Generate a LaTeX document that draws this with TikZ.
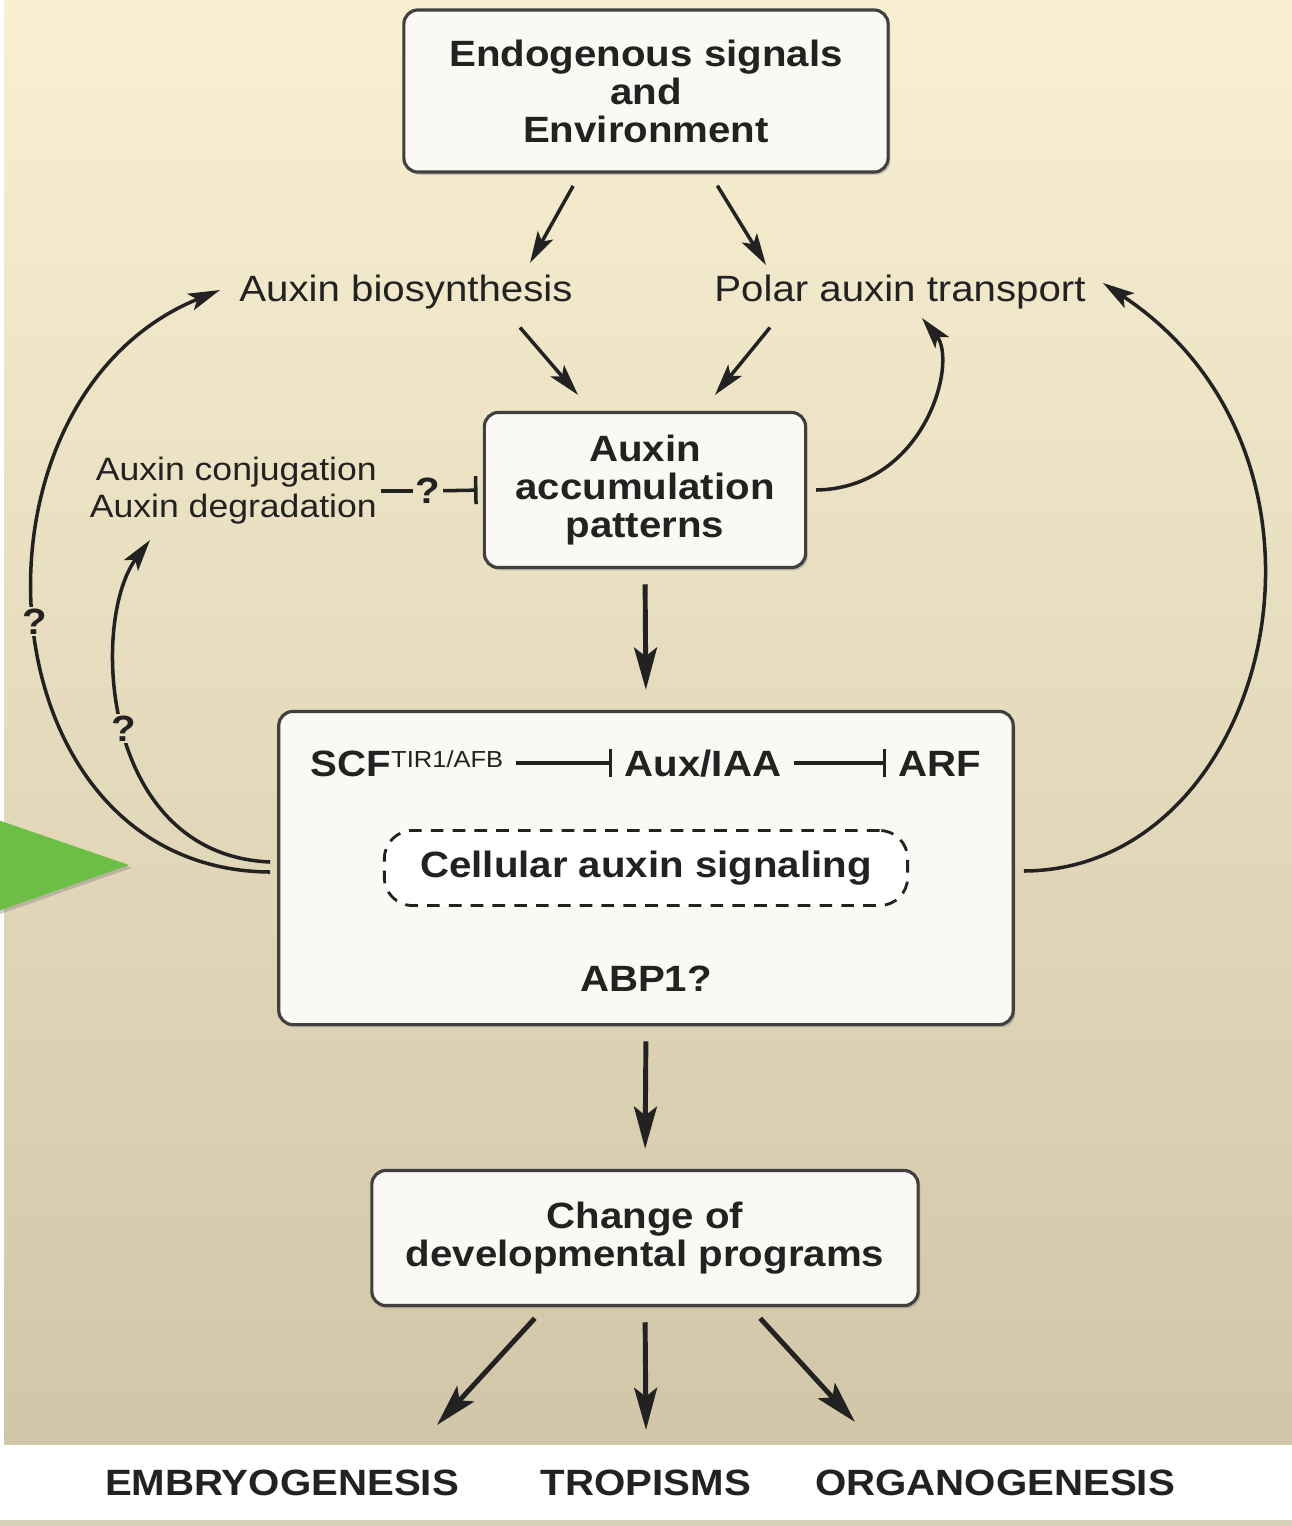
\documentclass[tikz,border=0pt]{standalone}
\usepackage{fontspec}
\setmainfont{Liberation Sans}[FakeStretch=1.1]
\usetikzlibrary{arrows.meta,calc,shadows}
\definecolor{bgTop}{HTML}{F9EFD1}
\definecolor{bgBot}{HTML}{D1C6A8}
\definecolor{boxFill}{HTML}{FBF9F3}
\definecolor{ink}{HTML}{222222}
\definecolor{markGreen}{HTML}{6CBE45}
\newcommand{\boxFont}{\fontsize{10.4}{10.8}\selectfont\bfseries}
\newcommand{\lblFont}{\fontsize{10.4}{10.8}\selectfont}
\newcommand{\smallFont}{\fontsize{9.2}{10.5}\selectfont}
\newcommand{\supText}[1]{\raisebox{2.6pt}{\fontsize{6.6}{7}\selectfont\mdseries #1}}

\begin{document}
\begin{tikzpicture}[x=0.01cm, y=-0.01cm,
    box/.style={draw=black!75, line width=0.9pt, fill=boxFill, rounded corners=4pt,
      align=center, font=\boxFont, text=ink,
      drop shadow={shadow xshift=0.6pt, shadow yshift=-0.8pt, opacity=0.4}},
    dashbox/.style={draw=ink, line width=0.8pt, dash pattern=on 3.6pt off 2.6pt,
      rounded corners=8pt, fill=white, font=\boxFont, text=ink},
    lbl/.style={font=\lblFont, text=ink},
    txt/.style={font=\boxFont, text=ink, text height=7.6pt, text depth=0pt},
    qmark/.style={font=\boxFont, text=ink, inner sep=0.6pt},
    arr/.style={draw=ink, line width=1pt, -{Stealth[length=9pt, width=5pt, inset=2pt]}},
    bigarr/.style={draw=ink, line width=1.4pt, -{Stealth[length=12pt, width=6.5pt, inset=2.5pt]}},
    inhibit/.style={draw=ink, line width=1pt, -{Bar[width=8pt, line width=1pt]}},
    plain/.style={draw=ink, line width=1pt}]
  \useasboundingbox (0,0) rectangle (1292,1526);

  % background
  \shade[top color=bgTop, bottom color=bgBot] (0,0) rectangle (1292,1445);
  \fill[white] (0,0) rectangle (4,1445);
  \fill[white] (0,1445) rectangle (1292,1520);
  \fill[bgBot!80!white] (0,1520) rectangle (1292,1526);
  \fill[markGreen, drop shadow={shadow xshift=0.8pt, shadow yshift=-0.8pt, opacity=0.4}]
    (-5,819) -- (129,865) -- (-5,912) -- cycle;

  % boxes
  \node[box, minimum width=4.84cm, minimum height=1.62cm] (env) at (646,91)
    {Endogenous signals\\and\\Environment};
  \node[lbl] (bio) at (406,292) {Auxin biosynthesis};
  \node[lbl] (pat) at (900,292) {Polar auxin transport};
  \node[box, minimum width=3.21cm, minimum height=1.55cm] (acc) at (645,490)
    {Auxin\\accumulation\\patterns};
  \node[lbl, font=\smallFont, align=right, anchor=east, inner sep=1pt] (conj) at (381,491)
    {Auxin conjugation\\Auxin degradation};
  \node[qmark] (q1) at (428,491) {?};

  \node[box, minimum width=7.34cm, minimum height=3.13cm] (sig) at (646,868) {};
  \node[txt] (scf) at (407,763) {SCF\supText{TIR1/AFB}};
  \node[txt] (aux) at (703,763) {Aux/IAA};
  \node[txt] (arf) at (940,763) {ARF};
  \node[dashbox, minimum width=5.23cm, minimum height=0.75cm] (cas) at (646,868)
    {Cellular auxin signaling};
  \node[txt] (abp) at (646,978) {ABP1?};

  \node[box, minimum width=5.46cm, minimum height=1.35cm] (chg) at (645,1238)
    {Change of\\developmental programs};

  \node[txt] (emb) at (282,1482) {EMBRYOGENESIS};
  \node[txt] (trop) at (646,1482) {TROPISMS};
  \node[txt] (org) at (995,1482) {ORGANOGENESIS};

  % free ends of the connectors
  \coordinate (bioIn) at (530,263);
  \coordinate (patIn) at (766,265);
  \coordinate (patLoop) at (922,318);
  \coordinate (patOut) at (1103,283);
  \coordinate (bioOut) at (220,290);
  \coordinate (conjOut) at (150,540);
  \coordinate (embIn) at (437,1425);
  \coordinate (tropIn) at (646,1430);
  \coordinate (orgIn) at (855,1422);

  % connectors
  \draw[arr, shorten <=4pt] ($(env.south)+(-66,0)$) -- (bioIn);
  \draw[arr, shorten <=4pt] ($(env.south)+(64,0)$) -- (patIn);
  \draw[arr] ($(bio.south)+(114,6)$) -- ($(acc.north)+(-67,-16)$);
  \draw[arr] ($(pat.south)+(-130,6)$) -- ($(acc.north)+(70,-16)$);
  \draw[plain] (conj.east) -- (q1);
  \draw[inhibit, shorten >=1.5pt] (q1) -- (acc.west);
  \draw[arr] ($(acc.east)+(9,0)$) .. controls (925,488) and (958,362) .. (patLoop);
  \draw[arr] ($(sig.east)+(9,3)$) .. controls (1270,870) and (1370,460) .. (patOut);
  \draw[arr] ($(sig.west)+(-7,4)$) .. controls (-20,870) and (-50,400) .. (bioOut)
    node[qmark, pos=0.5, fill=bgTop!57!bgBot] {?};
  \draw[arr] ($(sig.west)+(-7,-6)$) .. controls (100,855) and (90,620) .. (conjOut)
    node[qmark, pos=0.5, fill=bgTop!50!bgBot] {?};
  \draw[bigarr, shorten <=4.3pt, shorten >=5.7pt] (acc.south) -- (sig.north);
  \draw[inhibit] (scf) -- (aux);
  \draw[inhibit] (aux) -- (arf);
  \draw[bigarr, shorten <=4.3pt, shorten >=5.7pt] (sig.south) -- (chg.north);
  \draw[bigarr, shorten <=4.3pt] ($(chg.south)+(-100,0)$) -- (embIn);
  \draw[bigarr, shorten <=4.3pt] (chg.south) -- (tropIn);
  \draw[bigarr, shorten <=4.3pt] ($(chg.south)+(105,0)$) -- (orgIn);
\end{tikzpicture}
\end{document}
